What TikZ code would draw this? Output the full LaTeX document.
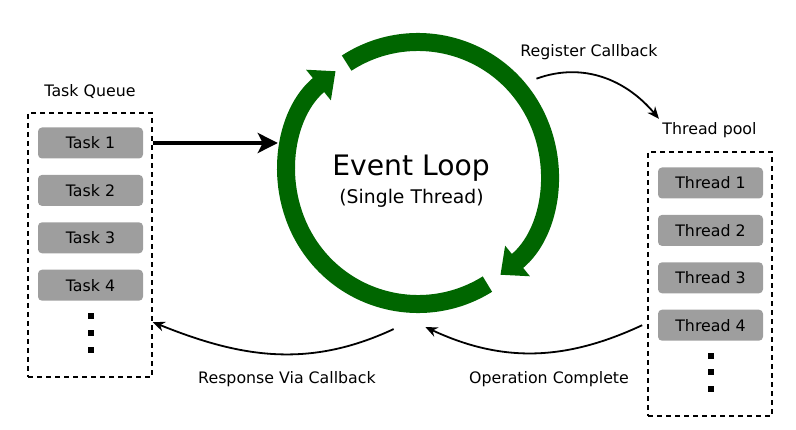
\documentclass[tikz,border=0pt]{standalone}
\usepackage{fontspec}
\setmainfont{DejaVu Sans}
\usetikzlibrary{arrows.meta,positioning}
\definecolor{loopgreen}{RGB}{0,102,0}
\definecolor{boxgray}{RGB}{158,158,158}

\begin{document}
\begin{tikzpicture}[
    x=1pt, y=1pt,
    node distance=16pt,
    every node/.style={font=\fontsize{15.8}{19}\selectfont},
    task/.style={
      fill=boxgray, rounded corners=4pt, inner sep=0pt,
      minimum width=105pt, minimum height=31pt
    },
    queuebox/.style={
      draw, dash pattern=on 5pt off 4pt, line width=1.6pt,
      minimum width=124pt, minimum height=264pt, inner sep=0pt
    },
    qdot/.style={fill=black, minimum size=6pt, inner sep=0pt},
    ring/.style={loopgreen, line width=18pt, -{Triangle[length=22pt,width=38pt]}},
    bigarrow/.style={line width=4pt, -{Stealth[length=20pt,width=20pt,inset=5pt]}},
    flow/.style={line width=1.8pt, -{Stealth[length=12pt,width=10pt]}}
  ]
  \useasboundingbox (0,0) rectangle (796,-430);

  % QUEUE
  \node[queuebox] (queue) at (90,-245) {};
  \node (queuelbl) at (90,-92) {Task Queue};
  \node[task] (task1) at (90.5,-143) {Task 1};
  \node[task, below=of task1] (task2) {Task 2};
  \node[task, below=of task2] (task3) {Task 3};
  \node[task, below=of task3] (task4) {Task 4};
  \node[qdot, below=12pt of task4] (qdot1) {};
  \node[qdot, below=10.5pt of qdot1] (qdot2) {};
  \node[qdot, below=10.5pt of qdot2] (qdot3) {};

  % POOL
  \node[queuebox] (pool) at (710,-284) {};
  \node (poollbl) at (709.5,-130) {Thread pool};
  \node[task] (thread1) at (710.5,-183) {Thread 1};
  \node[task, below=of thread1] (thread2) {Thread 2};
  \node[task, below=of thread2] (thread3) {Thread 3};
  \node[task, below=of thread3] (thread4) {Thread 4};
  \node[qdot, below=12pt of thread4] (pdot1) {};
  \node[qdot, below=10pt of pdot1] (pdot2) {};
  \node[qdot, below=10pt of pdot2] (pdot3) {};

  % LOOP
  \node[circle, minimum size=280pt, inner sep=0pt] (loop) at (418,-173) {};
  \node[font=\fontsize{28.2}{32}\selectfont] (title) at (411,-168) {Event Loop};
  \node[font=\fontsize{18.8}{22}\selectfont] (subtitle) at (411.5,-198) {(Single Thread)};
  \draw[ring] ([shift={(123:131)}]loop.center) arc[start angle=123, end angle=-51, radius=131];
  \draw[ring] ([shift={(-58:131)}]loop.center) arc[start angle=-58, end angle=-231, radius=131];

  % LABELS
  \node (regl) at (589,-52) {Register Callback};
  \node (respl) at (287,-379) {Response Via Callback};
  \node (opl) at (549,-379) {Operation Complete};

  % ARROWS
  \draw[bigarrow] (task1 -| queue.east) -- (task1 -| loop.west);
  \draw[flow] ([shift={(8,8)}]loop.38) to[out=20, in=130] (poollbl.north west);
  \draw[flow] ([xshift=-5pt]pool.west |- thread4) to[out=205, in=-25] ([yshift=-14pt]loop.-87);
  \draw[flow] ([yshift=-18pt]loop.-100) to[out=205, in=-22] ([yshift=-6pt]queue.east |- qdot1);
\end{tikzpicture}
\end{document}
